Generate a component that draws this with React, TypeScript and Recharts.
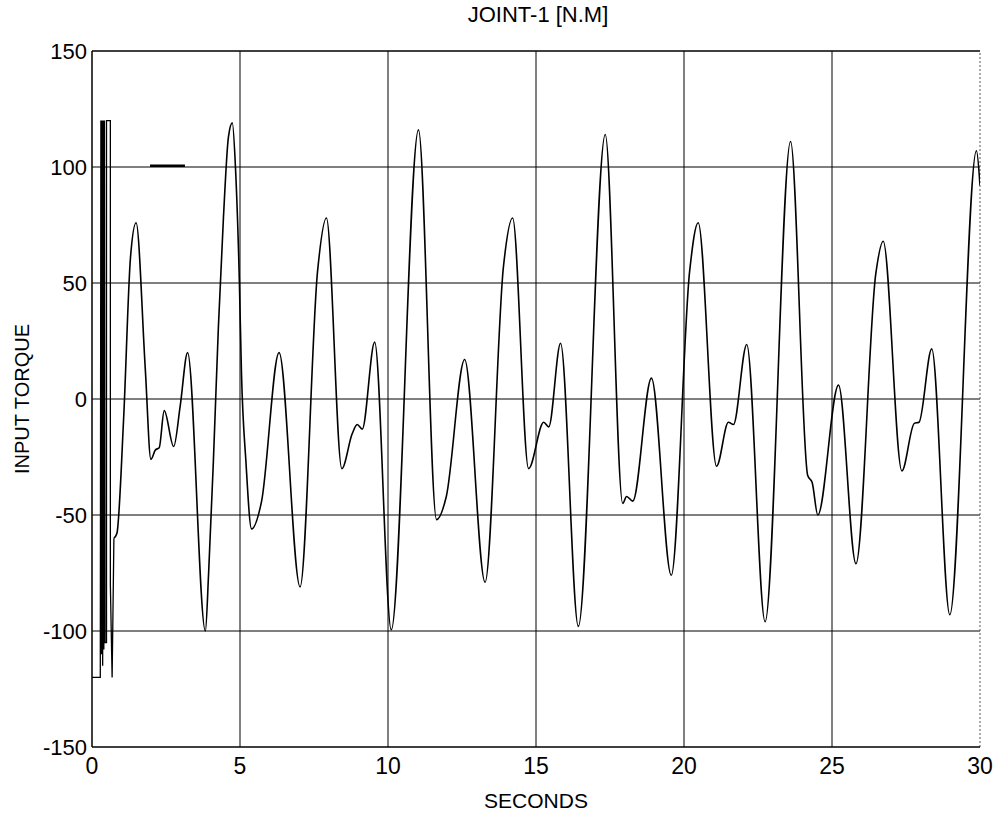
import { LineChart, Line, XAxis, YAxis, CartesianGrid, ReferenceLine, Label } from 'recharts';

// start-up transient (saturated torque, chattering between the limits)
const transientTime = [0, 0.28, 0.3, 0.32, 0.34, 0.36, 0.38, 0.4, 0.42, 0.44, 0.49, 0.49, 0.62, 0.62, 0.68, 0.74];
const transientTorque = [-120, -120, 120, -110, 120, -115, 120, -108, 120, -105, -105, 120, 120, -80, -120, -60];

// steady response
const torqueTime = [
  0.74, 0.84, 1.07, 1.3, 1.49, 1.8, 1.99, 2.14, 2.27, 2.44, 2.76, 2.98, 3.23, 3.83,
  3.94, 4.1, 4.27, 4.44, 4.61, 4.74, 4.85, 4.98, 5.05, 5.2, 5.39, 5.73, 6.32, 7.03,
  7.62, 7.92, 8.44, 8.79, 8.96, 9.13, 9.55, 10.11, 11.03, 11.64, 11.97, 12.59, 13.28,
  13.9, 14.21, 14.75, 15.26, 15.43, 15.83, 16.43, 17.34, 17.93, 18.06, 18.27, 18.9,
  19.57, 20.19, 20.48, 21.1, 21.5, 21.67, 22.12, 22.74, 23.6, 24.18, 24.33, 24.52,
  25.22, 25.81, 26.48, 26.73, 27.36, 27.78, 27.94, 28.37, 28.98, 29.88, 30,
];
const torqueValue = [
  -60, -58, -8, 61, 76, 13, -26, -22, -21, -5, -20.5, -3, 20, -100,
  -75, -27, 31, 78, 113, 119, 99, 50, 11, -27, -56, -44, 20, -81,
  55, 78, -30, -15, -11, -13, 24.5, -99.5, 116, -52, -42, 17, -79,
  57, 78, -30, -10, -12, 24, -98, 114, -45, -42, -44, 9,
  -76, 55, 76, -29, -10, -11, 23.5, -96, 111, -33, -36, -50,
  6, -71, 54, 68, -31, -10.5, -10, 21.6, -93, 107, 92,
];

const xTicks = [0, 5, 10, 15, 20, 25, 30];
const yTicks = [-150, -100, -50, 0, 50, 100, 150];
const xGrid = [5, 10, 15, 20, 25];
const yGrid = [-100, -50, 0, 50, 100];

const transientData = transientTime.map((t, i) => ({ t, v: transientTorque[i] }));
const torqueData = torqueTime.map((t, i) => ({ t, v: torqueValue[i] }));

const FONT = 'Liberation Sans, Arial, sans-serif';

export default function App() {
  return (
    <div style={{ position: 'absolute', left: 0, top: 0, width: 996, height: 818, background: '#fff' }}>
      <LineChart width={996} height={818} margin={{ top: 51, right: 16, bottom: 41, left: 12 }}>
        <CartesianGrid
          stroke="#000"
          strokeOpacity={1}
          horizontalValues={yGrid}
          verticalValues={xGrid}
        />
        <XAxis
          type="number"
          dataKey="t"
          domain={[0, 30]}
          ticks={xTicks}
          allowDataOverflow
          tickSize={0}
          tickMargin={11}
          axisLine={{ stroke: '#000', strokeWidth: 1.5 }}
          tick={{ fill: '#000', fontSize: 23, fontFamily: FONT }}
        >
          <Label value="SECONDS" position="bottom" offset={16} fill="#000" fontSize={21} fontFamily={FONT} />
        </XAxis>
        <YAxis
          type="number"
          domain={[-150, 150]}
          ticks={yTicks}
          allowDataOverflow
          width={80}
          tickSize={0}
          tickMargin={5}
          axisLine={{ stroke: '#000', strokeWidth: 1.5 }}
          tick={{ fill: '#000', fontSize: 22, fontFamily: FONT }}
        >
          <Label value="INPUT TORQUE" angle={-90} position="insideLeft" offset={10} fill="#000" fontSize={20} fontFamily={FONT} style={{ textAnchor: 'middle' }} />
        </YAxis>
        <ReferenceLine y={150} stroke="#000" strokeWidth={1.5} />
        <ReferenceLine x={30} stroke="#555" strokeDasharray="2 2" />
        <ReferenceLine segment={[{ x: 1.96, y: 100.5 }, { x: 3.14, y: 100.5 }]} stroke="#000" strokeWidth={2.5} />
        <Line data={transientData} dataKey="v" type="linear" stroke="#000" strokeWidth={1.3} dot={false} isAnimationActive={false} />
        <Line data={torqueData} dataKey="v" type="monotone" stroke="#000" strokeWidth={1.6} dot={false} isAnimationActive={false} />
      </LineChart>
      <div
        style={{
          position: 'absolute',
          left: 0,
          top: 2,
          width: 1076,
          textAlign: 'center',
          fontFamily: FONT,
          fontSize: 22,
          color: '#000',
        }}
      >
        JOINT-1 [N.M]
      </div>
    </div>
  );
}
